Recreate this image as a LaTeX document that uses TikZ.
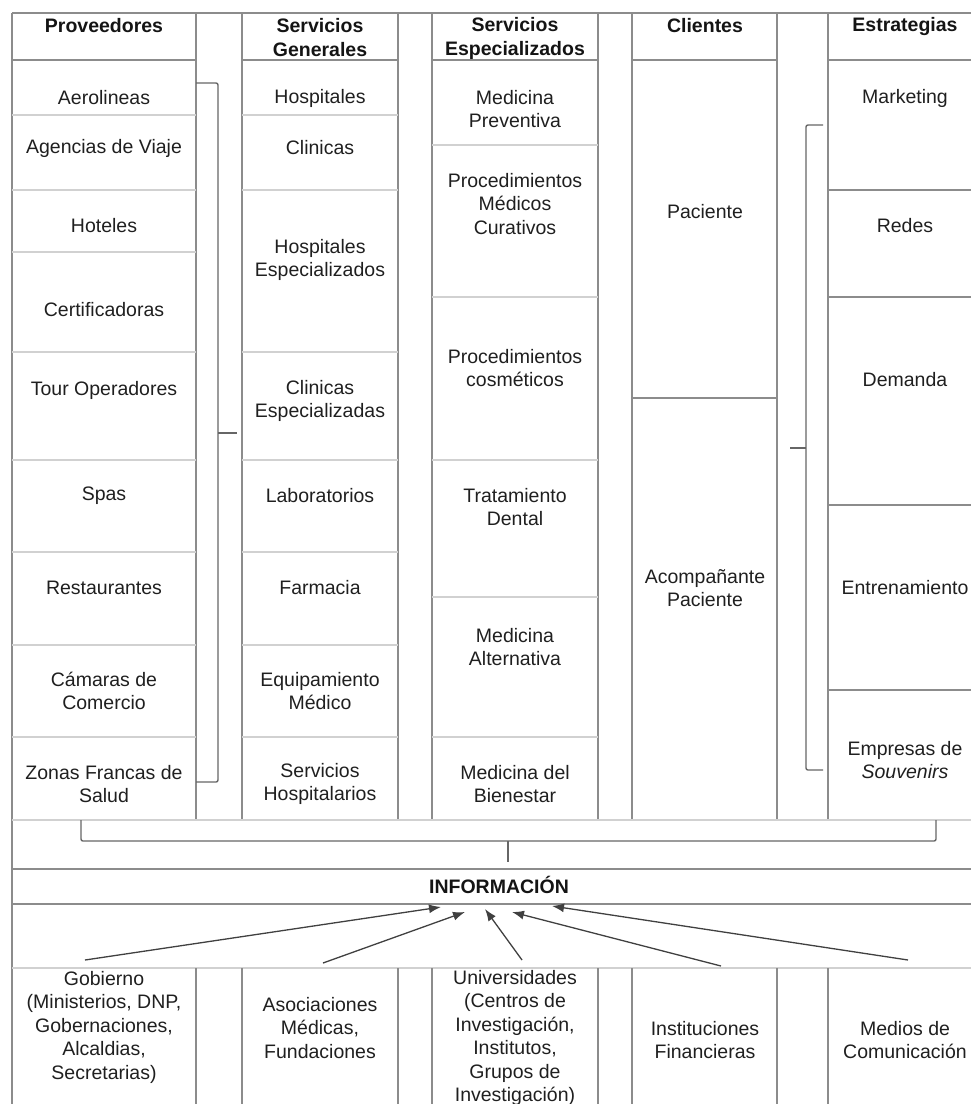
\documentclass[tikz,border=0pt]{standalone}
\usepackage{fontspec}
\setmainfont{Liberation Sans}
\usetikzlibrary{arrows.meta}
\begin{document}
\begin{tikzpicture}[x=1pt,y=-1pt,
  txt/.style={font=\fontsize{19.5}{23.5}\selectfont, align=center, inner sep=0pt, text=black!88},
  hdr/.style={font=\fontsize{19.5}{24}\selectfont\bfseries, align=center, inner sep=0pt, text=black!92},
  col/.style={draw=black!45, line width=1.1pt},
  sep/.style={draw=black!18, line width=1.1pt},
  brk/.style={draw=black!60, line width=1.4pt, rounded corners=2pt},
  arr/.style={draw=black!75, line width=1.3pt, -{Latex[length=12pt,width=9pt]}}]
\useasboundingbox (0,0) rectangle (971,1104);
\clip (0,0) rectangle (971,1104);

% frame lines
\draw[col] (12,13) -- (1000,13);
\draw[col] (12,13) -- (12,1120);
% column edges
\foreach \x in {12,196,242,398,432,598,632,777,828} {\draw[col] (\x,13) -- (\x,820);}
\foreach \a/\b in {12/196,242/398,432/598,632/777,828/1000} {\draw[col] (\a,60) -- (\b,60);}
% row separators
\foreach \y in {115,190,252,352,460,552,645,737} {\draw[sep] (12,\y) -- (196,\y);}
\foreach \y in {115,190,352,460,552,645,737} {\draw[sep] (242,\y) -- (398,\y);}
\foreach \y in {145,297,460,597,737} {\draw[sep] (432,\y) -- (598,\y);}
\draw[col] (632,398) -- (777,398);
\foreach \y in {190,297,505,690} {\draw[col] (828,\y) -- (1000,\y);}
% full-width lines
\draw[sep] (12,820) -- (1000,820);
\draw[col] (12,869) -- (1000,869);
\draw[col] (12,904) -- (1000,904);
\draw[sep] (12,968) -- (1000,968);
\foreach \x in {196,242,398,432,598,632,777,828} {\draw[col] (\x,968) -- (\x,1120);}

% headers
\node[hdr] (hprov) at (104,26) {Proveedores};
\node[hdr] (hsg) at (320,38) {Servicios\\Generales};
\node[hdr] (hse) at (515,38) {Servicios\\Especializados};
\node[hdr] (hcli) at (705,26) {Clientes};
\node[hdr] (hest) at (905,26) {Estrategias};

% Proveedores
\node[txt] (p1) at (104,98) {Aerolineas};
\node[txt] (p2) at (104,148) {Agencias de Viaje};
\node[txt] (p3) at (104,226) {Hoteles};
\node[txt] (p4) at (104,310) {Certificadoras};
\node[txt] (p5) at (104,390) {Tour Operadores};
\node[txt] (p6) at (104,496) {Spas};
\node[txt] (p7) at (104,588) {Restaurantes};
\node[txt] (p8) at (104,691) {Cámaras de\\Comercio};
\node[txt] (p9) at (104,784) {Zonas Francas de\\Salud};

% Servicios Generales
\node[txt] (g1) at (320,98) {Hospitales};
\node[txt] (g2) at (320,148) {Clinicas};
\node[txt] (g3) at (320,260) {Hospitales\\Especializados};
\node[txt] (g4) at (320,401) {Clinicas\\Especializadas};
\node[txt] (g5) at (320,496) {Laboratorios};
\node[txt] (g6) at (320,588) {Farmacia};
\node[txt] (g7) at (320,691) {Equipamiento\\Médico};
\node[txt] (g8) at (320,784) {Servicios\\Hospitalarios};

% Servicios Especializados
\node[txt] (e1) at (515,109) {Medicina\\Preventiva};
\node[txt] (e2) at (515,204) {Procedimientos\\Médicos\\Curativos};
\node[txt] (e3) at (515,368) {Procedimientos\\cosméticos};
\node[txt] (e4) at (515,507) {Tratamiento\\Dental};
\node[txt] (e5) at (515,647) {Medicina\\Alternativa};
\node[txt] (e6) at (515,784) {Medicina del\\Bienestar};

% Clientes
\node[txt] (c1) at (705,212) {Paciente};
\node[txt] (c2) at (705,588) {Acompañante\\Paciente};

% Estrategias
\node[txt] (s1) at (905,98) {Marketing};
\node[txt] (s2) at (905,226) {Redes};
\node[txt] (s3) at (905,380) {Demanda};
\node[txt] (s4) at (905,588) {Entrenamiento};
\node[txt] (s5) at (905,760) {Empresas de\\\textit{Souvenirs}};

% brackets
\draw[brk] (196,83) -- (218,83) -- (218,782) -- (196,782);
\draw[black!60, line width=1.4pt] (218,433) -- (237,433);
\draw[brk] (823,125) -- (806,125) -- (806,770) -- (823,770);
\draw[black!60, line width=1.4pt] (806,448) -- (790,448);
\draw[brk] (81,820) -- (81,841) -- (936,841) -- (936,820);
\draw[black!60, line width=1.4pt] (508,841) -- (508,862);

% information
\node[hdr] (info) at (499,885) {INFORMACIÓN};

% bottom
\node[txt] (b1) at (104,1027) {Gobierno\\(Ministerios, DNP,\\Gobernaciones,\\Alcaldias,\\Secretarias)};
\node[txt] (b2) at (320,1028) {Asociaciones\\Médicas,\\Fundaciones};
\node[txt] (b3) at (515,1038) {Universidades\\(Centros de\\Investigación,\\Institutos,\\Grupos de\\Investigación)};
\node[txt] (b4) at (705,1040) {Instituciones\\Financieras};
\node[txt] (b5) at (905,1040) {Medios de\\Comunicación};

% arrows
\coordinate (a1s) at (85,960); \coordinate (a1e) at (441,907);
\coordinate (a2s) at (323,963); \coordinate (a2e) at (465,912);
\coordinate (a3s) at (522,960); \coordinate (a3e) at (485,909);
\coordinate (a4s) at (721,966); \coordinate (a4e) at (512,912);
\coordinate (a5s) at (908,960); \coordinate (a5e) at (552,906);
\draw[arr] (a1s) -- (a1e);
\draw[arr] (a2s) -- (a2e);
\draw[arr] (a3s) -- (a3e);
\draw[arr] (a4s) -- (a4e);
\draw[arr] (a5s) -- (a5e);
\end{tikzpicture}
\end{document}
